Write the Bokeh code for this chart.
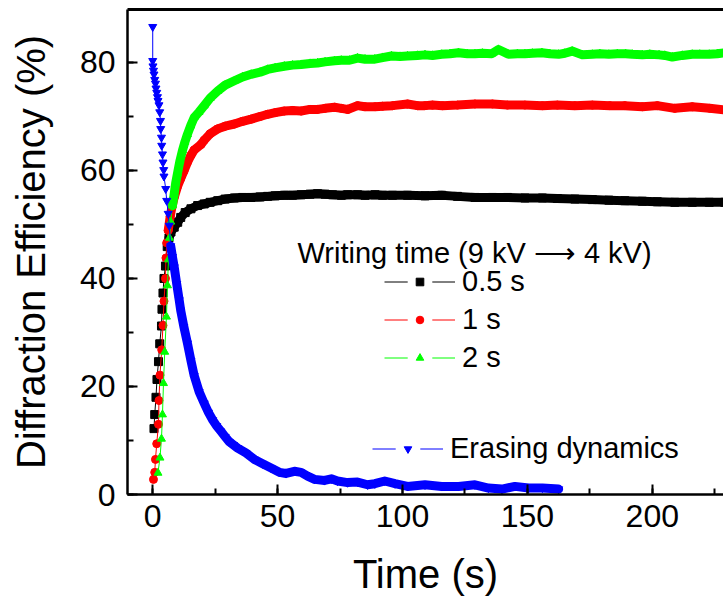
import numpy as np
from bokeh.plotting import figure
from bokeh.models import (Range1d, LinearAxis, FixedTicker, SingleIntervalTicker,
                          Legend, LegendItem, Label)
from bokeh.embed import file_html
from bokeh.resources import INLINE

FONT = "Liberation Sans"

# Writing time 0.5 s (9 kV -> 4 kV)
t_05 = [0.5, 0.8, 1.3, 1.7, 2.3, 2.8, 3.5, 3.7, 4.1, 4.5,
        5.1, 5.8, 6.5, 7.3, 8.6, 10.0, 11.2, 13.0, 15.3, 18.0,
        20.6, 23.0, 26.0, 29.0, 32.7, 36.0, 39.4, 43.0, 46.0, 49.0,
        52.7, 56.0, 59.4, 63.0, 66.0, 69.0, 72.0, 75.5, 78.0, 82.0,
        85.0, 89.0, 92.0, 96.0, 102.0, 109.0, 115.7, 122.0, 129.0, 136.0,
        142.0, 149.0, 156.0, 162.0, 169.0, 176.0, 182.6, 189.0, 196.0, 202.0,
        209.0, 216.0, 222.8, 229.0]
de_05 = [12.2, 14.8, 18.0, 21.3, 24.6, 27.9, 31.2, 34.3, 37.3, 40.0,
         42.3, 45.9, 47.5, 48.6, 49.5, 50.4, 51.3, 52.2, 52.9, 53.5,
         53.8, 54.1, 54.4, 54.7, 54.9, 55.0, 55.0, 55.1, 55.2, 55.3,
         55.4, 55.4, 55.5, 55.6, 55.7, 55.6, 55.5, 55.4, 55.5, 55.5,
         55.4, 55.5, 55.4, 55.4, 55.4, 55.3, 55.4, 55.2, 55.0, 55.0,
         55.0, 54.9, 54.9, 54.8, 54.7, 54.6, 54.5, 54.4, 54.3, 54.2,
         54.1, 54.1, 54.1, 54.1]

# Writing time 1 s
t_1 = [0.3, 0.8, 1.1, 1.6, 2.3, 2.5, 2.9, 3.6, 4.1, 4.5,
       5.1, 5.3, 5.6, 6.2, 7.0, 7.8, 8.6, 9.9, 11.2, 12.6,
       13.9, 15.3, 16.6, 19.3, 20.6, 23.0, 26.0, 29.0, 32.7, 36.0,
       39.4, 43.0, 46.0, 49.0, 52.7, 56.0, 59.4, 63.0, 66.0, 69.0,
       72.8, 75.5, 78.0, 82.0, 85.0, 89.0, 92.0, 96.0, 102.0, 106.0,
       109.0, 112.0, 116.0, 122.0, 129.0, 136.0, 142.0, 149.0, 156.0, 162.0,
       169.0, 176.0, 183.0, 189.0, 196.0, 202.0, 209.0, 216.0, 223.0, 229.0]
de_1 = [2.8, 4.1, 6.5, 9.4, 13.0, 17.4, 22.1, 26.8, 31.3, 35.8,
        40.0, 43.8, 46.6, 48.9, 51.5, 53.5, 55.0, 57.0, 58.5, 60.0,
        61.5, 62.8, 63.8, 64.8, 65.6, 66.8, 67.7, 68.2, 68.6, 69.1,
        69.5, 70.0, 70.4, 70.7, 71.0, 71.1, 71.0, 71.3, 71.3, 71.5,
        71.7, 71.5, 71.3, 72.0, 71.8, 71.8, 71.9, 72.0, 72.3, 72.0,
        72.0, 72.1, 72.0, 72.1, 72.3, 72.3, 72.1, 72.1, 72.0, 72.1,
        72.0, 72.1, 72.0, 72.0, 71.8, 72.0, 71.5, 71.8, 71.5, 71.2]

# Writing time 2 s
t_2 = [2.1, 2.9, 3.5, 3.9, 4.3, 4.8, 5.5, 5.9, 6.3, 6.7,
       7.2, 7.9, 8.6, 9.2, 9.9, 10.9, 11.9, 12.9, 13.9, 15.2,
       16.6, 18.5, 20.6, 23.0, 26.0, 29.0, 32.7, 36.0, 39.4, 43.0,
       46.0, 49.0, 52.7, 56.0, 59.4, 63.0, 66.0, 69.0, 72.8, 75.5,
       78.8, 82.0, 85.0, 88.9, 92.0, 95.6, 99.0, 102.0, 106.0, 109.0,
       112.0, 115.7, 119.0, 122.4, 126.0, 129.0, 132.0, 135.7, 138.4, 142.4,
       146.0, 149.0, 152.0, 155.8, 159.0, 162.5, 165.0, 167.9, 172.0, 176.0,
       179.0, 182.6, 186.0, 189.3, 192.0, 196.0, 199.0, 202.7, 205.0, 208.0,
       212.0, 216.0, 219.0, 222.8, 226.0, 229.0]
de_2 = [4.0, 6.8, 10.3, 14.8, 20.6, 26.4, 32.9, 38.7, 43.5, 47.5,
        50.5, 53.5, 55.7, 57.7, 59.4, 61.8, 63.7, 65.3, 66.7, 68.3,
        69.8, 70.8, 72.0, 73.4, 74.7, 75.8, 76.6, 77.3, 77.8, 78.2,
        78.7, 79.0, 79.3, 79.5, 79.6, 79.8, 79.9, 80.1, 80.3, 80.4,
        80.4, 80.8, 80.6, 80.6, 80.9, 81.2, 81.1, 81.2, 81.3, 81.4,
        81.3, 81.5, 81.6, 81.8, 81.6, 81.6, 81.7, 81.6, 82.4, 81.5,
        81.6, 81.6, 81.7, 81.8, 81.6, 81.5, 81.7, 82.1, 81.4, 81.5,
        81.6, 81.5, 81.6, 81.6, 81.5, 81.4, 81.5, 81.4, 81.3, 81.0,
        81.3, 81.5, 81.5, 81.5, 81.6, 81.8]

# Erasing dynamics
t_er = [0.0, 0.0, 0.1, 0.3, 0.5, 0.8, 1.1, 1.3, 1.6, 1.9,
        2.1, 2.5, 2.8, 3.1, 3.2, 3.5, 3.6, 3.9, 4.1, 4.4,
        4.5, 5.2, 5.6, 6.2, 6.6, 7.2, 7.9, 8.6, 9.6, 10.6,
        11.2, 12.5, 13.9, 15.3, 16.6, 18.6, 20.6, 22.3, 24.0, 25.6,
        27.3, 29.0, 30.6, 32.3, 34.0, 37.3, 40.7, 44.0, 47.4, 50.7,
        53.4, 56.7, 59.4, 62.0, 64.8, 68.8, 71.5, 74.0, 78.0, 82.0,
        86.0, 88.9, 92.9, 97.0, 102.0, 109.0, 115.7, 122.4, 129.0, 134.4,
        139.8, 145.0, 150.5, 156.0, 162.5]
de_er = [86.6, 80.3, 79.3, 78.5, 77.8, 76.8, 76.1, 75.2, 74.4, 73.6,
         72.9, 72.1, 70.8, 69.2, 67.7, 66.1, 64.6, 63.0, 61.5, 60.1,
         58.9, 56.6, 54.4, 52.0, 49.8, 46.0, 44.0, 42.1, 39.0, 36.0,
         34.1, 31.0, 28.0, 24.8, 22.0, 19.0, 16.9, 15.2, 13.8, 12.7,
         11.7, 10.7, 9.8, 9.2, 8.6, 7.7, 6.5, 5.7, 4.9, 4.1,
         3.9, 4.3, 4.1, 3.4, 2.8, 2.6, 2.9, 2.5, 2.2, 2.3,
         1.8, 2.0, 2.5, 2.0, 1.5, 1.8, 1.5, 1.5, 1.8, 1.2,
         1.0, 1.5, 1.2, 1.2, 1.0]

series = [
    # (times, values, colour, marker, time where the markers merge into a band)
    (t_05, de_05, "#000000", "square", 6.5),
    (t_1, de_1, "#ff0000", "circle", 6.2),
    (t_2, de_2, "#00ff00", "triangle", 7.9),
    (t_er, de_er, "#0000ff", "inverted_triangle", 7.2),
]

p = figure(width=723, height=603, output_backend="svg", toolbar_location=None,
           x_range=Range1d(-10.1, 228.5), y_range=Range1d(0.0, 89.8),
           min_border_left=127, min_border_right=0, min_border_top=9,
           min_border_bottom=109, outline_line_color=None,
           background_fill_color="white", border_fill_color="white")
p.xgrid.grid_line_color = None
p.ygrid.grid_line_color = None

for t, v, col, mk, band_from in series:
    t = np.asarray(t)
    v = np.asarray(v)
    dense = t >= band_from
    # densely sampled stretch: the overlapping symbols form a solid band
    p.line(t[dense], v[dense], line_color=col, line_width=9,
           line_join="round", line_cap="round")
    p.line(t, v, line_color=col, line_width=1)
    p.scatter(t, v, marker=mk, size=8,
              fill_color=col, line_color=col)

# axes
p.xaxis.ticker = SingleIntervalTicker(interval=50, num_minor_ticks=2)
p.yaxis.ticker = SingleIntervalTicker(interval=20, num_minor_ticks=2)
p.xaxis.axis_label = "Time (s)"
p.yaxis.axis_label = "Diffraction Efficiency (%)"
for ax in (p.xaxis[0], p.yaxis[0]):
    ax.axis_line_width = 2.5
    ax.axis_line_color = "black"
    ax.major_tick_in = 10
    ax.major_tick_out = 0
    ax.minor_tick_in = 6
    ax.minor_tick_out = 0
    ax.major_tick_line_width = 2
    ax.minor_tick_line_width = 2
    ax.major_tick_line_color = "black"
    ax.minor_tick_line_color = "black"
    ax.major_label_text_font = FONT
    ax.major_label_text_font_size = "32px"
    ax.major_label_text_color = "black"
    ax.axis_label_text_font = FONT
    ax.axis_label_text_font_size = "40px"
    ax.axis_label_text_font_style = "normal"
    ax.axis_label_text_color = "black"
p.xaxis.major_label_standoff = 10
p.xaxis.axis_label_standoff = 22
p.yaxis.major_label_standoff = 12
p.yaxis.axis_label_standoff = 24

top = LinearAxis(ticker=FixedTicker(ticks=[]), axis_line_width=3,
                 axis_line_color="black", major_tick_line_color=None,
                 minor_tick_line_color=None, major_label_standoff=0,
                 major_tick_in=0, major_tick_out=0)
p.add_layout(top, "above")

# legend samples: one hidden point each so the key glyphs have something to draw
NAN = [float("nan")]

def legend_renderers(col, mk):
    ln = p.line(x=NAN, y=NAN, line_color=col, line_width=1)
    gap = p.scatter(x=NAN, y=NAN, marker="square", fill_color="white",
                    line_color="white", line_width=17)
    sym = p.scatter(x=NAN, y=NAN, marker=mk, fill_color=col, line_color=col)
    return [ln, gap, sym]

legend_style = dict(padding=0, margin=0, spacing=0, glyph_width=71,
                    glyph_height=19, label_height=38, label_standoff=7,
                    border_line_color=None, background_fill_alpha=0,
                    label_text_font=FONT, label_text_font_size="29px",
                    label_text_color="black")

labels = ["0.5 s", "1 s", "2 s"]
items = [LegendItem(label=lab, renderers=legend_renderers(col, mk))
         for lab, (_, _, col, mk, _) in zip(labels, series[:3])]
p.add_layout(Legend(items=items, location=(257, 118), **legend_style))

erase_item = LegendItem(label="Erasing dynamics",
                        renderers=legend_renderers("#0000ff", "inverted_triangle"))
p.add_layout(Legend(items=[erase_item], location=(245, 27), **legend_style))

p.add_layout(Label(x=170, y=242, x_units="screen", y_units="screen",
                   text="Writing time (9 kV \u27f6 4 kV)", text_font=FONT,
                   text_font_size="29px", text_baseline="alphabetic",
                   text_color="black"))

open("out.html", "w").write(file_html(p, INLINE))
